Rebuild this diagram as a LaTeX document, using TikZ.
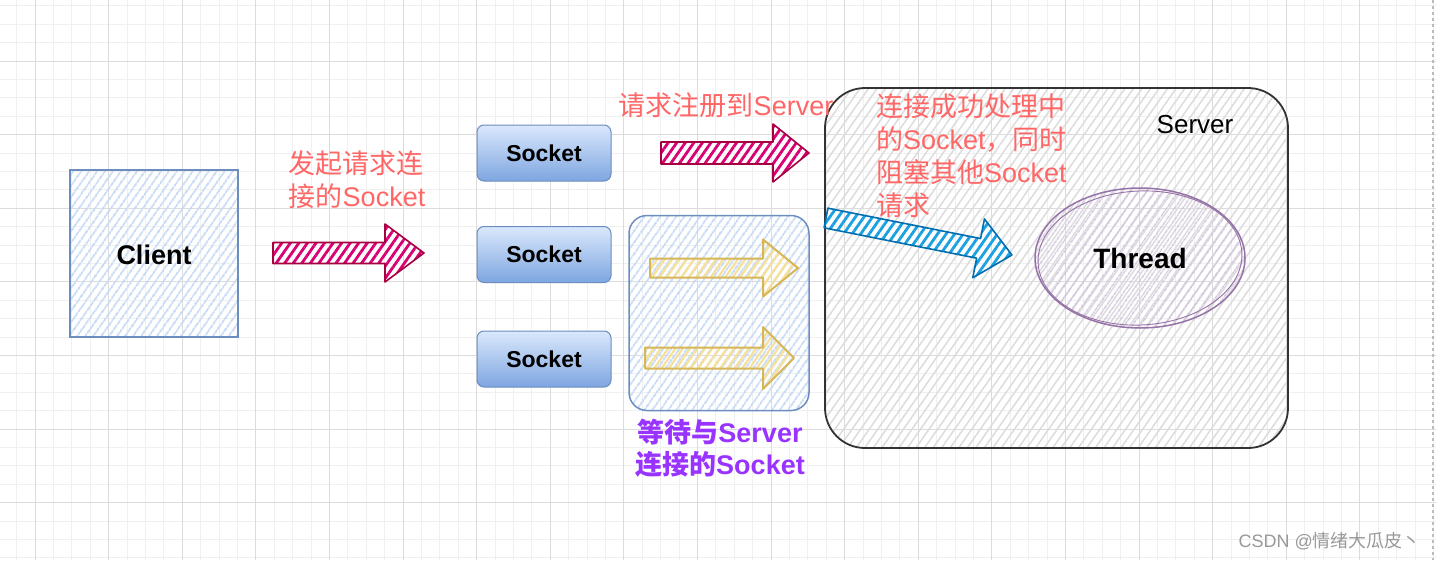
\documentclass[tikz,border=0pt]{standalone}
\usepackage{fontspec}
\setmainfont{Liberation Sans}
\newfontfamily\cjk{Noto Sans CJK SC}
\usetikzlibrary{patterns.meta,shapes.geometric}

\definecolor{gridminor}{HTML}{F0F0F0}
\definecolor{gridmajor}{HTML}{DCDCDC}
\definecolor{bluehatch}{HTML}{C4D9F5}
\definecolor{bluestroke}{HTML}{6C8EBF}
\definecolor{pinkfill}{HTML}{D80073}
\definecolor{pinkstroke}{HTML}{A50040}
\definecolor{cyanfill}{HTML}{1BA1E2}
\definecolor{cyanstroke}{HTML}{006EAF}
\definecolor{yelhatch}{HTML}{F6E09A}
\definecolor{yelstroke}{HTML}{D6B656}
\definecolor{grayhatch}{HTML}{DCDCDC}
\definecolor{serverstroke}{HTML}{333333}
\definecolor{purplehatch}{HTML}{D3C3DE}
\definecolor{purplestroke}{HTML}{9673A6}
\definecolor{redtext}{HTML}{FF6666}
\definecolor{purpletext}{HTML}{9933FF}
\definecolor{socktop}{HTML}{DAE8FC}
\definecolor{sockbot}{HTML}{7EA6E0}
\definecolor{wmgray}{HTML}{999999}
\definecolor{edgegray}{HTML}{BBBBBB}

\newcommand\blockarrow[7]{%
  \begin{scope}[shift={#2},rotate=#3]
    \path[#1] (0,-#5) -- ({#4-#7},-#5) -- ({#4-#7},-#6) -- (#4,0)
      -- ({#4-#7},#6) -- ({#4-#7},#5) -- (0,#5) -- cycle;
  \end{scope}}

\tikzset{
  minorline/.style={gridminor,line width=0.9pt},
  majorline/.style={gridmajor,line width=1pt},
  bluehatched/.style={pattern={Lines[angle=55,distance=6.5pt,line width=2pt]},pattern color=bluehatch},
  clientbox/.style={draw=bluestroke,line width=1.8pt,bluehatched,minimum width=168pt,minimum height=167pt,inner sep=0pt},
  waitbox/.style={draw=bluestroke,line width=1.5pt,bluehatched,rounded corners=18pt,minimum width=180pt,minimum height=195pt,inner sep=0pt},
  serverbox/.style={draw=serverstroke,line width=1.8pt,pattern={Lines[angle=55,distance=7pt,line width=1.5pt]},pattern color=grayhatch,rounded corners=40pt,minimum width=463pt,minimum height=360pt,inner sep=0pt},
  threadshape/.style={ellipse,draw=purplestroke,line width=1.5pt,pattern={Lines[angle=55,distance=6.5pt,line width=1.6pt]},pattern color=purplehatch,minimum width=210pt,minimum height=140pt,inner sep=0pt},
  socketbox/.style={draw=bluestroke,line width=1pt,rounded corners=7pt,top color=socktop,bottom color=sockbot,minimum width=134pt,minimum height=56pt,inner sep=0pt,font=\bfseries\fontsize{23}{27}\selectfont},
  pinkarrow/.style={draw=pinkstroke,line width=1.6pt,line join=round,pattern={Lines[angle=55,distance=7pt,line width=2.8pt]},pattern color=pinkfill},
  cyanarrow/.style={draw=cyanstroke,line width=1.6pt,line join=round,pattern={Lines[angle=55,distance=7pt,line width=2.8pt]},pattern color=cyanfill},
  yelarrow/.style={draw=yelstroke,line width=2pt,line join=round,pattern={Lines[angle=55,distance=6pt,line width=2.2pt]},pattern color=yelhatch},
  redlabel/.style={text=redtext,font=\fontsize{27}{33}\selectfont,inner sep=0pt},
  purplelabel/.style={text=purpletext,font=\bfseries\fontsize{27}{32}\selectfont,inner sep=0pt,align=center},
}

\begin{document}
\begin{tikzpicture}[x=1pt,y=-1pt]
\useasboundingbox (0,0) rectangle (1436,560);
\fill[white] (0,0) rectangle (1436,560);
% grid
\foreach \i in {0,...,78} \draw[minorline] ({-1.8+18.4*\i},0) -- ++(0,560);
\foreach \j in {0,...,30} \draw[minorline] (0,{5.8+18.4*\j}) -- ++(1436,0);
\foreach \i in {0,...,18} \draw[majorline] ({35+73.6*\i},0) -- ++(0,560);
\foreach \j in {0,...,6} \draw[majorline] (0,{61+73.6*\j}) -- ++(1436,0);
\draw[edgegray,line width=1.2pt,dashed] (1433,0) -- (1433,560);

% shapes
\node[clientbox] (client) at (154,253.5) {};
\node[font=\bfseries\fontsize{27}{32}\selectfont] (clientlabel) at (154,255) {Client};

\node[socketbox] (sock1) at (544,153) {Socket};
\node[socketbox] (sock2) at (544,254.5) {Socket};
\node[socketbox] (sock3) at (544,359) {Socket};

\node[waitbox] (wait) at (719,313) {};

\node[serverbox] (server) at (1056.5,268) {};
\node[font=\fontsize{26}{30}\selectfont,inner sep=0pt] (serverlabel) at (1195,125) {Server};

\node[threadshape] (thread) at (1140,258) {};
\draw[purplestroke,line width=0.9pt,rotate around={3:(thread.center)}] (thread.center) ellipse (102 and 67);
\node[font=\bfseries\fontsize{28}{32}\selectfont] (threadlabel) at (1140,258) {Thread};

% block arrows
\blockarrow{pinkarrow}{(273,253)}{0}{151}{10.5}{29}{39}
\blockarrow{pinkarrow}{(661,153)}{0}{148}{11}{29}{36}
\blockarrow{yelarrow}{(650,268)}{0}{148}{9.5}{28.5}{35}
\blockarrow{yelarrow}{(645,358)}{0}{149}{10.5}{31}{31}
\blockarrow{cyanarrow}{(826,218)}{-11.25}{189.6}{10}{30}{34}

% labels
\node[redlabel,align=left] (lbl1) at (357,180) {{\cjk 发起请求连}\\{\cjk 接的}Socket};
\node[redlabel] (lbl2) at (726,105) {{\cjk 请求注册到}Server};
\node[redlabel,align=left,anchor=north west] (lbl3) at (876,94) {{\cjk 连接成功处理中}\\{\cjk 的}Socket{\cjk ，同时}\\{\cjk 阻塞其他}Socket\\{\cjk 请求}};
\node[purplelabel] (lbl4) at (720,448) {{\cjk 等待与}Server\\{\cjk 连接的}Socket};

\node[text=wmgray,font=\fontsize{18}{22}\selectfont,anchor=east,inner sep=0pt] (watermark) at (1421,541) {CSDN @{\cjk 情绪大瓜皮丶}};
\end{tikzpicture}
\end{document}
